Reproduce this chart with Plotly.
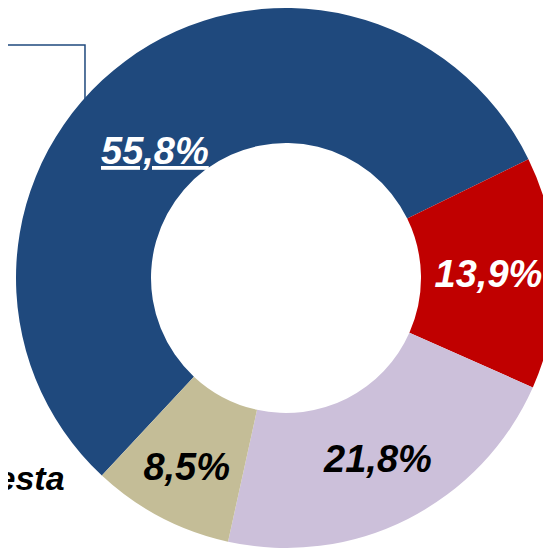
import plotly.graph_objects as go

# respuestas (orden de las porciones, en sentido horario)
labels = ["Sí", "No", "Depende", "No contesta"]
values = [55.8, 13.9, 21.8, 8.5]
colors = ["#1F497D", "#C00000", "#CCC0DA", "#C4BD97"]
text_colors = ["white", "white", "black", "black"]

FONT = "Liberation Sans, Arial, sans-serif"

def pct(v):
    return f"{v:.1f}%".replace(".", ",")

# la etiqueta de la porción mayor va aparte (subrayada, más cerca del borde)
slice_text = [""] + [pct(v) for v in values[1:]]

fig = go.Figure()
fig.add_trace(go.Pie(
    labels=labels,
    values=values,
    hole=0.5,
    sort=False,
    direction="clockwise",
    rotation=223,
    marker=dict(colors=colors, line=dict(width=0)),
    text=slice_text,
    textinfo="text",
    textposition="inside",
    insidetextorientation="horizontal",
    insidetextfont=dict(
        family=FONT, size=38, color=text_colors, weight="bold", style="italic",
    ),
    hoverinfo="skip",
    showlegend=False,
))

fig.add_annotation(
    text=f"<b><i>{pct(values[0])}</i></b>", xref="paper", yref="paper",
    x=0.259, y=0.735, xanchor="center", yanchor="middle", showarrow=False,
    font=dict(family=FONT, size=38, color="white", lineposition="under"),
)

# recuadro recortado arriba a la izquierda (se esconde detrás del anillo)
fig.add_shape(
    type="path", xref="paper", yref="paper",
    path="M -0.2,0.9315 L 0.1305,0.9315 L 0.1305,0.7",
    line=dict(color="#1F497D", width=1.5), layer="below",
)

# etiqueta exterior, cortada por el borde
fig.add_annotation(
    text="<b><i>No contesta</i></b>", xref="paper", yref="paper",
    x=0.098, y=0.1296, xanchor="right", yanchor="middle", showarrow=False,
    font=dict(family=FONT, size=34, color="black"),
)

fig.update_layout(
    width=551, height=540,
    margin=dict(l=6, r=1, t=0, b=0),
    paper_bgcolor="white",
    plot_bgcolor="white",
)

fig.write_html("out.html")
